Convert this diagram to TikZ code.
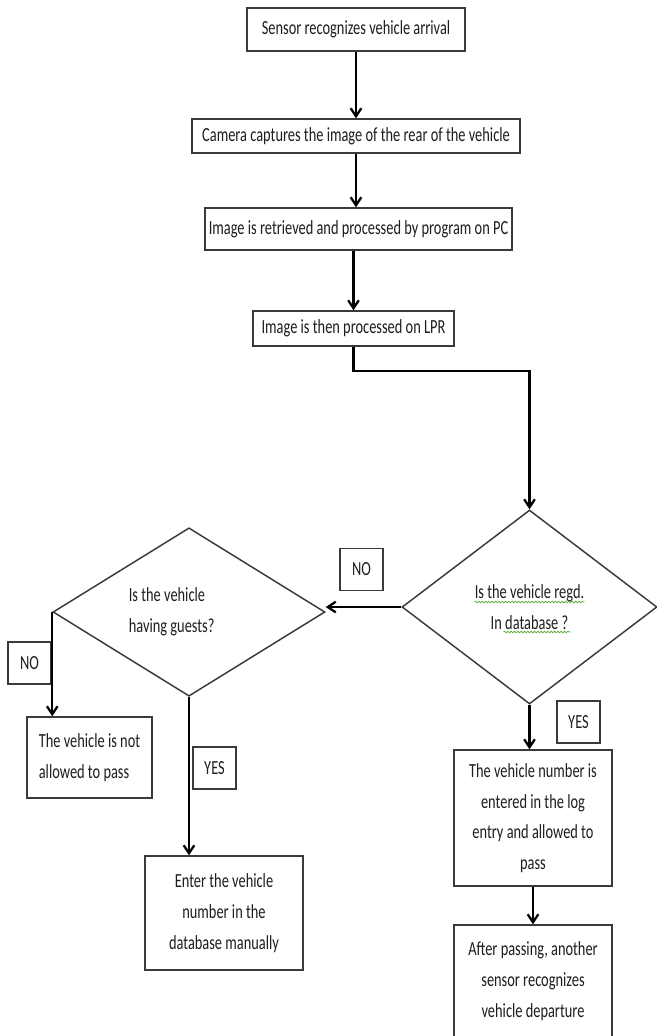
\documentclass[tikz,border=0pt]{standalone}
\usepackage{fontspec}
\setmainfont[FakeStretch=0.72]{Carlito}
\usepackage{xcolor}
\usepackage{tikz}
\usetikzlibrary{arrows.meta, positioning, calc, shapes.geometric, decorations.pathmorphing}
\definecolor{kline}{HTML}{3A3A3A}
\definecolor{ktext}{HTML}{1E1E1E}
\definecolor{kspell}{HTML}{5FAE3E}

\begin{document}
\begin{tikzpicture}[x=0.75pt, y=-0.75pt,
  every node/.style={font=\fontsize{15}{23}\selectfont, text=ktext},
  procbox/.style={draw=kline, line width=1.1pt, fill=white, inner sep=2pt, align=center},
  decide/.style={diamond, draw=kline, line width=1.1pt, inner sep=0pt},
  tagbox/.style={draw=kline, line width=1.1pt, minimum width=32.5pt, minimum height=31.5pt, inner sep=0pt},
  flow/.style={draw=black, line width=1.7pt, -{Straight Barb[length=6pt, width=8pt]}},
  spell/.style={kspell, line width=0.6pt, decorate, decoration={snake, amplitude=0.6pt, segment length=2.5pt}}]
\useasboundingbox (0,0) rectangle (657,1036);

% main chain
\node[procbox, minimum width=163.5pt, minimum height=32.25pt] (sense) at (356,29.5) {Sensor recognizes vehicle arrival};
\node[procbox, minimum width=246pt, minimum height=25.5pt] (camera) at (356,136) {Camera captures the image of the rear of the vehicle};
\node[procbox, minimum width=230.25pt, minimum height=31.5pt] (retrieve) at (358.5,229) {Image is retrieved and processed by program on PC};
\node[procbox, minimum width=150.75pt, minimum height=26.25pt] (lpr) at (353.5,328.5) {Image is then processed on LPR};

% decisions
\node[decide, minimum width=191.25pt, minimum height=145.5pt, align=center] (regd) at (529.5,607) {Is the vehicle regd.\\In database ?};
\node[decide, minimum width=204pt, minimum height=126pt, align=left] (guests) at (189,612) {Is the vehicle\\having guests?\hspace*{26pt}};

% outcomes
\node[procbox, minimum width=93.75pt, minimum height=60.75pt, align=left] (notpass) at (89.5,757.5) {The vehicle is not\\allowed to pass};
\node[procbox, minimum width=118.5pt, minimum height=85.5pt] (manual) at (224,913) {Enter the vehicle\\number in the\\database manually};
\node[procbox, minimum width=118.5pt, minimum height=102pt] (logentry) at (533,818) {The vehicle number is\\entered in the log\\entry and allowed to\\pass};
\node[procbox, minimum width=118.5pt, minimum height=84pt] (depart) at (533,981) {After passing, another\\sensor recognizes\\vehicle departure};

% yes / no tags
\node[tagbox] (noright) at (361.5,569.5) {NO};
\node[tagbox] (noleft) at (29.5,663) {NO};
\node[tagbox] (yesleft) at (214.5,768) {YES};
\node[tagbox] (yesright) at (578.5,722) {YES};

% spell-check marks
\draw[spell] ($(regd.center)+(-55,-5)$) -- ++(110,0);
\draw[spell] ($(regd.center)+(-26,25)$) -- ++(67,0);

% connectors
\draw[flow] (sense) -- (camera);
\draw[flow] (camera.south) -- (camera.south |- retrieve.north);
\draw[flow] (lpr.north |- retrieve.south) -- (lpr.north);
\draw[flow] (lpr.south) -- ++(0,24) -| (regd.north);
\draw[flow] (regd.west) -- (regd.west -| guests.east);
\draw[flow] (guests.west) -- (guests.west |- notpass.north);
\draw[flow] (guests.south) -- (guests.south |- manual.north);
\draw[flow] (regd.south) -- (regd.south |- logentry.north);
\draw[flow] (logentry.south) -- (depart.north);
\end{tikzpicture}
\end{document}
